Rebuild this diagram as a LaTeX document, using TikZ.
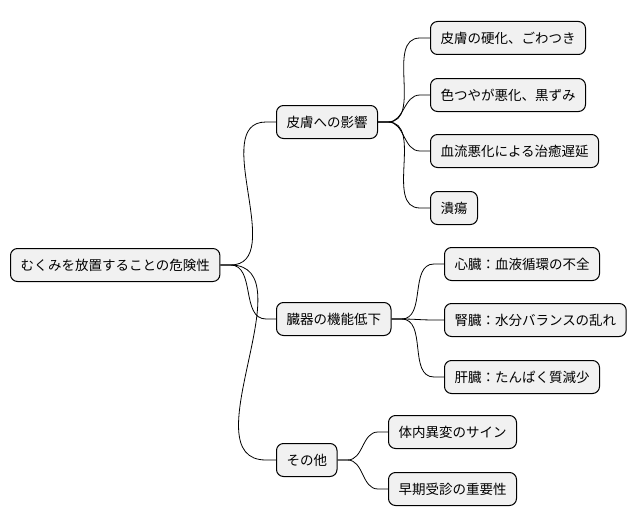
\documentclass[tikz,border=0pt]{standalone}
\usepackage{fontspec}
\newfontfamily\jp{Noto Sans CJK JP}
\begin{document}
\begin{tikzpicture}[x=1pt,y=-1pt,
  box/.style={draw=black,line width=1pt,fill={rgb,255:red,241;green,241;blue,241},rounded corners=7pt,minimum height=33pt,inner xsep=10pt,font=\jp\fontsize{13.5}{16}\selectfont},
  link/.style={draw=black,line width=0.8pt}]
\useasboundingbox (0,0) rectangle (642,527);
\node[box,anchor=west] (r) at (10,265) {むくみを放置することの危険性};
\node[box,anchor=west] (a) at (276,122) {皮膚への影響};
\node[box,anchor=west] (b) at (276,319) {臓器の機能低下};
\node[box,anchor=west] (c) at (276,460) {その他};
\node[box,anchor=west] (a1) at (430,38) {皮膚の硬化、ごわつき};
\node[box,anchor=west] (a2) at (430,95) {色つやが悪化、黒ずみ};
\node[box,anchor=west] (a3) at (430,151) {血流悪化による治癒遅延};
\node[box,anchor=west] (a4) at (430,208) {潰瘍};
\node[box,anchor=west] (b1) at (444,264) {心臓：血液循環の不全};
\node[box,anchor=west] (b2) at (444,320) {腎臓：水分バランスの乱れ};
\node[box,anchor=west] (b3) at (444,377) {肝臓：たんぱく質減少};
\node[box,anchor=west] (c1) at (388,432) {体内異変のサイン};
\node[box,anchor=west] (c2) at (388,489) {早期受診の重要性};
\foreach \p/\q in {r/a,r/b,r/c,a/a1,a/a2,a/a3,a/a4,b/b1,b/b2,b/b3,c/c1,c/c2}
  \draw[link] (\p.east) -- ++(10,0) to[out=0,in=180] ([xshift=-10pt]\q.west) -- (\q.west);
\end{tikzpicture}
\end{document}
